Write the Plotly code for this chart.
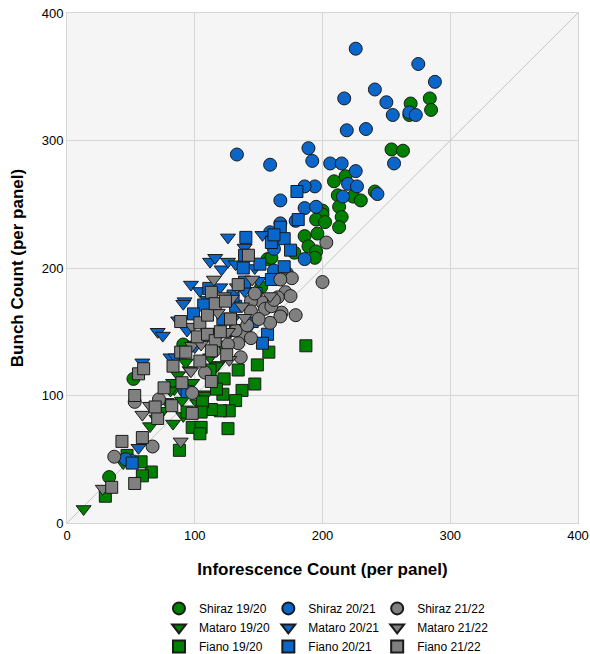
import plotly.graph_objects as go

# Inflorescence (x) and bunch (y) counts per panel, by variety and season
shiraz_1920_x = [269, 284, 285, 268, 254, 263, 209, 218, 212, 224, 230, 241, 213, 215, 213,
                 200, 200, 195, 202, 196, 186, 189, 195, 194, 178, 157, 160, 152, 52, 33, 91]
shiraz_1920_y = [329, 333, 324, 320, 293, 292, 268, 272, 257, 256, 253, 260, 248, 240, 232,
                 245, 242, 238, 236, 227, 225, 217, 213, 208, 212, 207, 208, 185, 113, 36, 140]

shiraz_2021_x = [226, 275, 288, 241, 250, 217, 255, 268, 273, 219, 234, 133, 189, 192, 159,
                 206, 215, 226, 256, 220, 227, 243, 216, 194, 186, 167, 186, 195, 167, 179,
                 159, 162, 186, 162, 172, 92, 50, 46]
shiraz_2021_y = [372, 360, 346, 340, 330, 333, 320, 322, 320, 308, 309, 289, 294, 284, 281,
                 282, 282, 276, 282, 266, 264, 258, 256, 264, 264, 253, 247, 248, 235, 237,
                 228, 215, 207, 198, 196, 104, 49, 50]

shiraz_2122_x = [203, 200, 176, 167, 171, 175, 165, 179, 168, 167, 159, 153, 155, 144, 144,
                 138, 138, 144, 134, 136, 108, 98, 72, 53, 67, 37, 132, 150, 160, 126,
                 147, 162, 141, 120, 115]
shiraz_2122_y = [220, 189, 192, 191, 181, 178, 177, 163, 165, 162, 157, 173, 168, 174, 166,
                 151, 147, 145, 141, 130, 118, 102, 97, 95, 60, 52, 151, 160, 170, 140,
                 180, 175, 155, 150, 135]

mataro_1920_x = [13, 44, 65, 83, 118, 84, 90, 106, 87, 117, 83, 81, 96, 108, 75, 98, 112,
                 100, 93, 70, 45, 102, 120, 91, 78, 128]
mataro_1920_y = [11, 47, 76, 78, 124, 105, 96, 101, 116, 123, 110, 104, 120, 100, 88, 110,
                 130, 140, 126, 82, 50, 94, 140, 84, 95, 150]

mataro_2021_x = [126, 153, 139, 112, 116, 121, 126, 132, 147, 97, 104, 92, 91, 71, 75, 87,
                 94, 81, 59, 56, 100, 130, 110, 150, 120, 108, 139, 85, 140]
mataro_2021_y = [224, 226, 216, 205, 208, 199, 205, 203, 200, 187, 182, 174, 172, 150, 147,
                 159, 151, 130, 126, 59, 138, 160, 175, 190, 185, 145, 182, 130, 150]

mataro_2122_x = [28, 89, 59, 65, 115, 145, 159, 137, 139, 123, 129, 126, 98, 97, 98, 127,
                 110, 118, 105, 133]
mataro_2122_y = [27, 64, 85, 92, 191, 191, 178, 170, 161, 178, 176, 150, 154, 119, 139, 128,
                 150, 165, 140, 185]

fiano_1920_x = [187, 158, 149, 134, 147, 137, 123, 122, 132, 127, 120, 113, 106, 105, 98,
                105, 104, 126, 94, 117, 88, 66, 59, 58, 47, 30, 112]
fiano_1920_y = [139, 134, 124, 120, 109, 104, 113, 101, 96, 88, 88, 89, 95, 87, 75, 75,
                70, 74, 87, 105, 57, 40, 37, 48, 53, 21, 120]

fiano_2021_x = [180, 181, 167, 170, 175, 140, 160, 162, 139, 138, 151, 170, 139, 160, 107,
                99, 132, 130, 157, 153, 145, 111, 132, 51, 94, 122, 148]
fiano_2021_y = [260, 238, 232, 223, 214, 224, 220, 226, 210, 200, 203, 201, 189, 191, 171,
                164, 170, 178, 148, 141, 158, 184, 151, 47, 103, 160, 180]

fiano_2122_x = [35, 53, 43, 59, 53, 56, 60, 71, 69, 76, 82, 98, 89, 93, 89, 104, 110, 113,
                116, 124, 134, 142, 102, 110, 116, 113, 104, 125, 90, 83, 113, 120, 128]
fiano_2122_y = [28, 31, 64, 67, 100, 117, 121, 82, 91, 106, 92, 86, 134, 134, 158, 157, 163,
                181, 172, 174, 187, 210, 146, 148, 143, 135, 127, 132, 110, 123, 111, 150, 160]

GREEN = "#008000"
BLUE = "#0a66c8"
GREY = "#808080"

# (legend label, x, y, colour, symbol, legend column)
series = [
    ("Shiraz 19/20", shiraz_1920_x, shiraz_1920_y, GREEN, "circle", "legend"),
    ("Mataro 19/20", mataro_1920_x, mataro_1920_y, GREEN, "triangle-down", "legend"),
    ("Fiano 19/20", fiano_1920_x, fiano_1920_y, GREEN, "square", "legend"),
    ("Shiraz 20/21", shiraz_2021_x, shiraz_2021_y, BLUE, "circle", "legend2"),
    ("Mataro 20/21", mataro_2021_x, mataro_2021_y, BLUE, "triangle-down", "legend2"),
    ("Fiano 20/21", fiano_2021_x, fiano_2021_y, BLUE, "square", "legend2"),
    ("Shiraz 21/22", shiraz_2122_x, shiraz_2122_y, GREY, "circle", "legend3"),
    ("Mataro 21/22", mataro_2122_x, mataro_2122_y, GREY, "triangle-down", "legend3"),
    ("Fiano 21/22", fiano_2122_x, fiano_2122_y, GREY, "square", "legend3"),
]

fig = go.Figure()

# 1:1 reference line
fig.add_trace(go.Scatter(x=[0, 400], y=[0, 400], mode="lines",
                         line=dict(color="#c4c4c4", width=1),
                         showlegend=False, hoverinfo="skip"))

for name, xs, ys, col, sym, leg in series:
    size = 12 if sym == "square" else 13
    fig.add_trace(go.Scatter(
        x=xs, y=ys, mode="markers", name=name, legend=leg,
        marker=dict(color=col, symbol=sym, size=size,
                    line=dict(color="#1a1a1a", width=1)),
    ))

axis_style = dict(range=[0, 400], dtick=100, showgrid=True, gridcolor="#d6d6d6",
                  zeroline=False, showline=True, linecolor="#d6d6d6", mirror=True,
                  ticks="", tickfont=dict(size=13), automargin=False)

# One vertical legend per season, laid out as three columns under the plot
legend_col = dict(orientation="v", xanchor="left", y=-0.139, yanchor="top",
                  font=dict(size=12), itemsizing="constant",
                  tracegroupgap=0, bgcolor="rgba(0,0,0,0)")

fig.update_layout(
    width=590, height=654,
    margin=dict(l=67, r=12, t=13, b=131, autoexpand=False),
    paper_bgcolor="white",
    plot_bgcolor="#f5f5f5",
    font=dict(family="Liberation Sans, Arial, sans-serif", color="black", size=13),
    xaxis=dict(**axis_style,
               title=dict(text="<b>Inforescence Count (per panel)</b>",
                          font=dict(size=17), standoff=21)),
    yaxis=dict(**axis_style,
               title=dict(text="<b>Bunch Count (per panel)</b>",
                          font=dict(size=17), standoff=13)),
    legend=dict(**legend_col, x=0.18),
    legend2=dict(**legend_col, x=0.394),
    legend3=dict(**legend_col, x=0.607),
    showlegend=True,
)

fig.write_html("out.html")
